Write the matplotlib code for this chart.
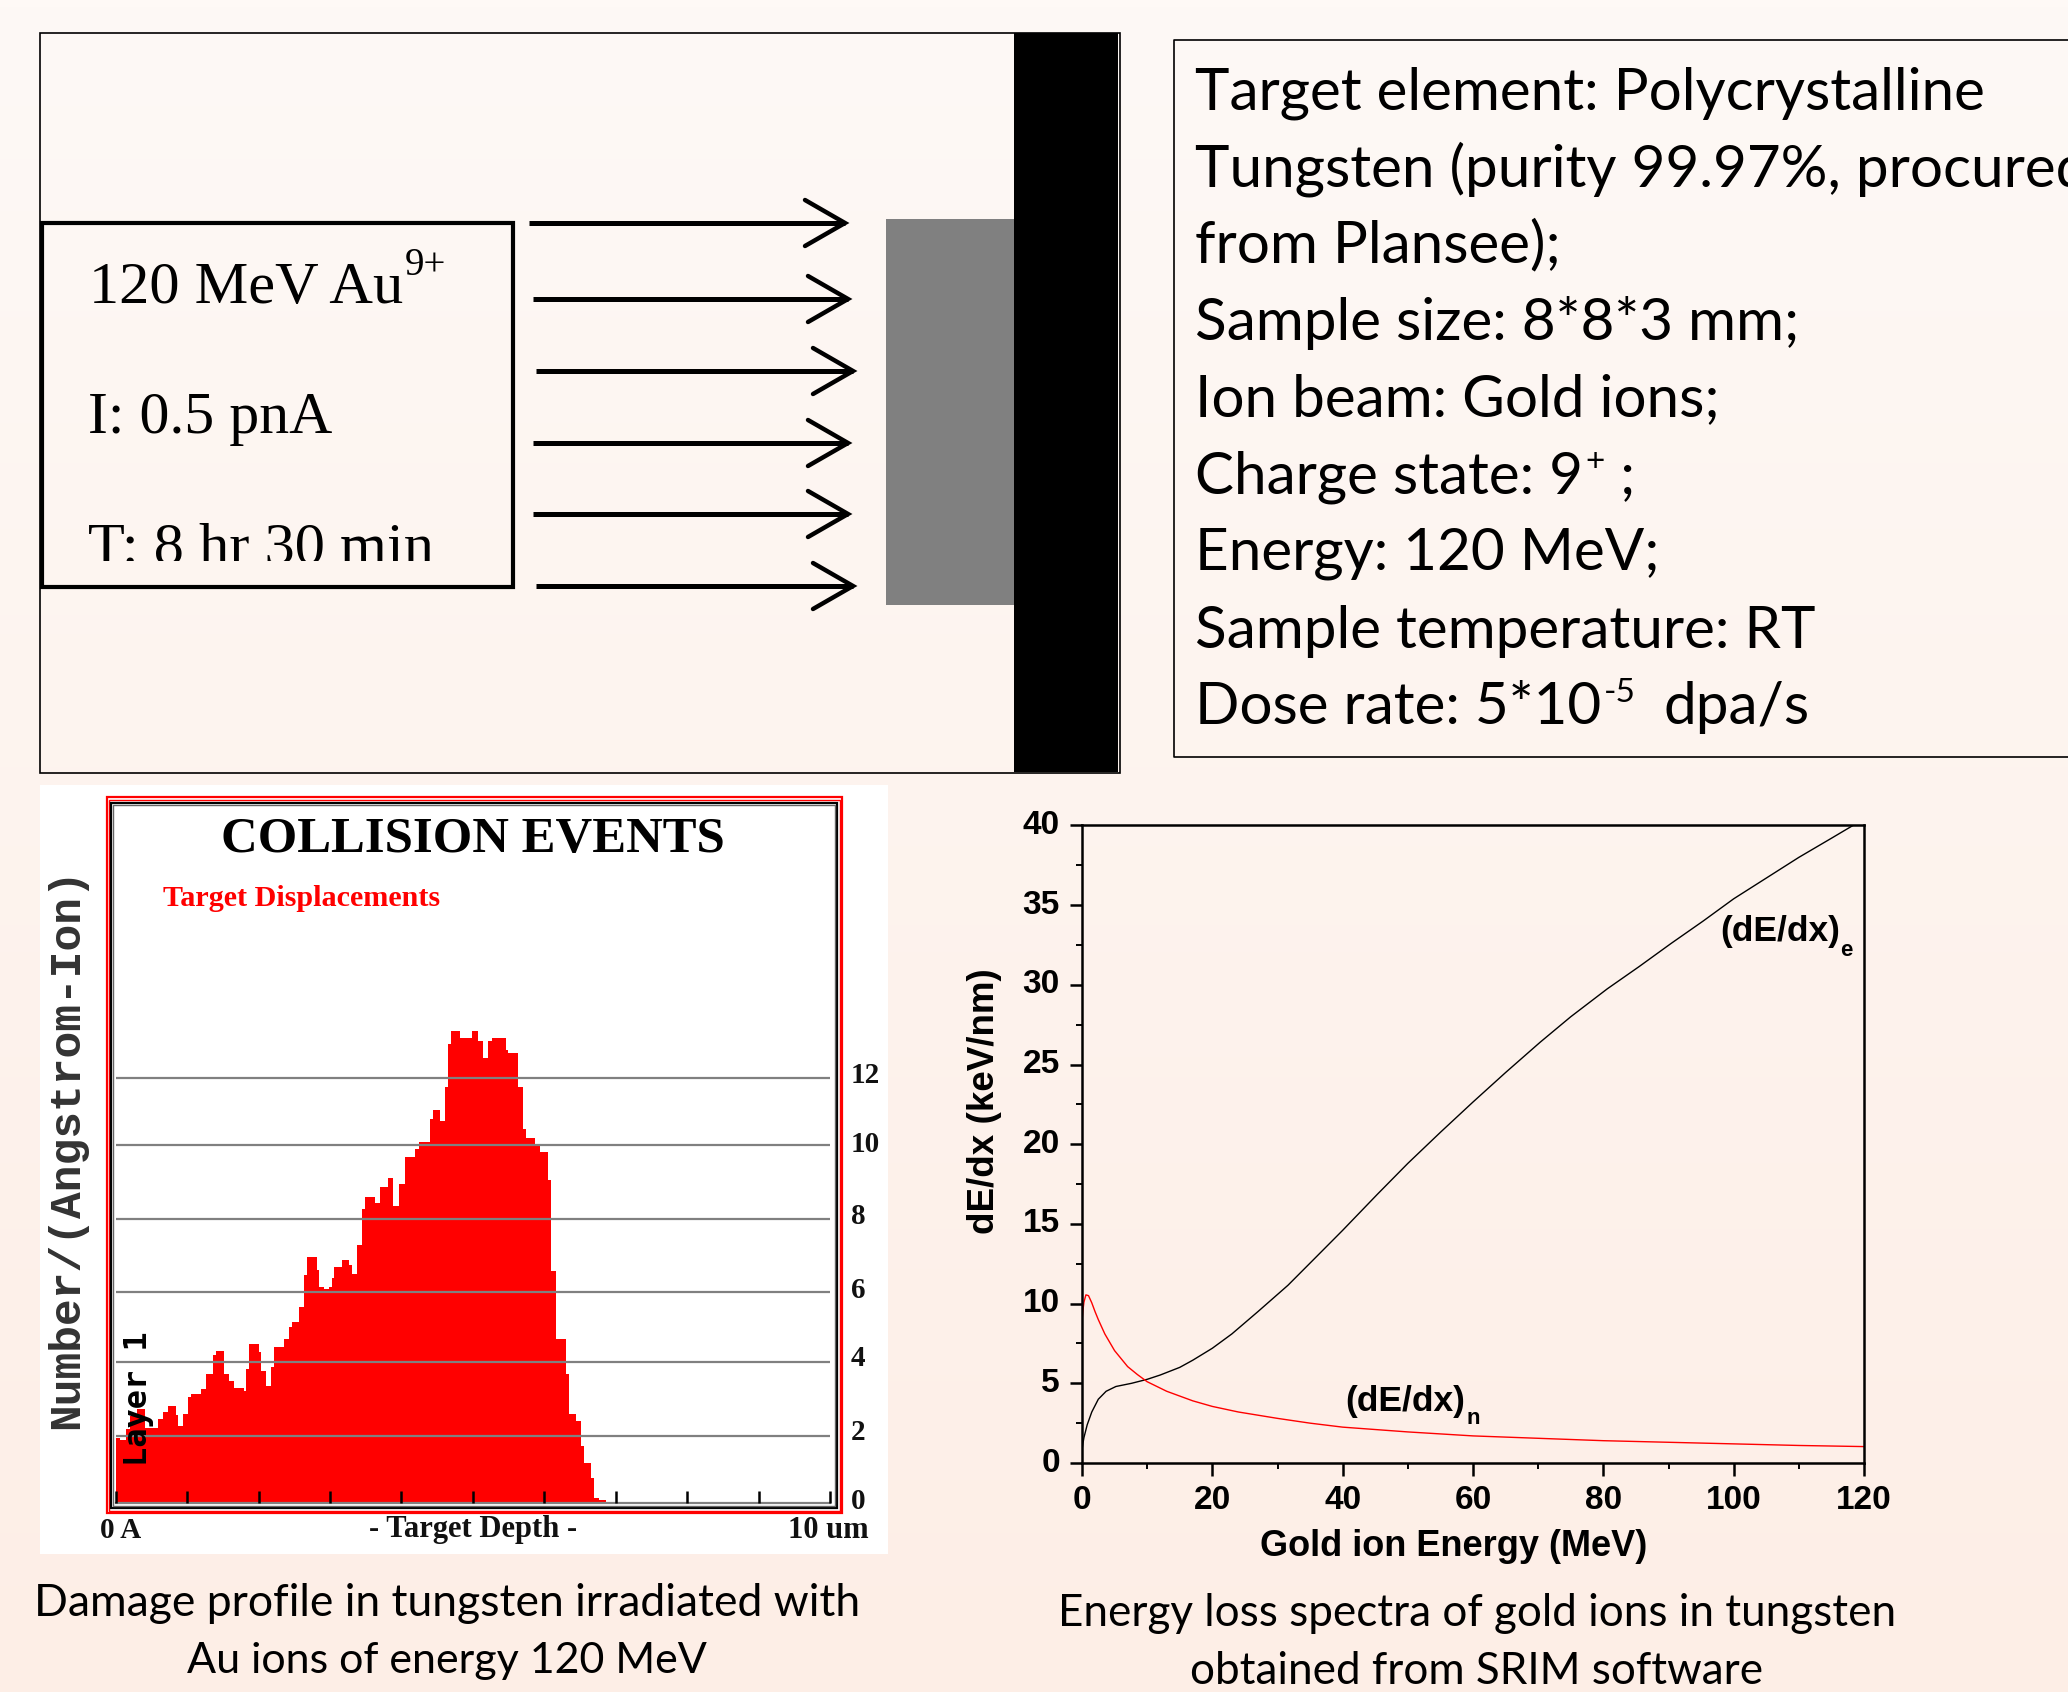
import numpy as np
import matplotlib
matplotlib.use("Agg")
import matplotlib.pyplot as plt
from matplotlib.patches import Rectangle
from matplotlib.transforms import ScaledTranslation

W, H = 2068, 1692

# ---------- data ----------
depth_edges = [0, .061, .140, .201, .294, .411, .481, .598, .668, .738, .845, .878, .948, 1.018, 1.050, 1.195,
               1.265, 1.368, 1.405, 1.513, 1.583, 1.653, 1.793, 1.830, 1.863, 2.003, 2.040, 2.110, 2.180, 2.218,
               2.358, 2.428, 2.465, 2.568, 2.638, 2.675, 2.815, 2.853, 2.923, 2.993, 3.030, 3.063, 3.165, 3.268,
               3.315, 3.380, 3.449, 3.487, 3.625, 3.702, 3.810, 3.886, 3.971, 4.055, 4.194, 4.240, 4.401, 4.447,
               4.547, 4.608, 4.647, 4.693, 4.823, 4.992, 5.069, 5.138, 5.215, 5.269, 5.461, 5.499, 5.630, 5.707,
               5.745, 5.876, 5.945, 6.052, 6.098, 6.163, 6.302, 6.340, 6.447, 6.513, 6.550, 6.653, 6.690, 6.760,
               6.867]
displacements = [1.85, 1.78, 2.08, 2.46, 2.65, 2.13, 2.11, 2.38, 2.58, 2.74, 2.50, 2.18, 2.52, 3.00, 3.09,
                 3.23, 3.65, 4.18, 4.28, 3.65, 3.45, 3.24, 3.16, 3.79, 4.49, 4.27, 3.73, 3.31, 3.85,
                 4.42, 4.62, 4.97, 5.12, 5.54, 6.44, 6.95, 6.58, 6.10, 6.04, 6.10, 6.37, 6.67, 6.86,
                 6.72, 6.46, 7.28, 8.30, 8.65, 8.47, 8.93, 9.19, 8.40, 9.00, 9.77, 9.99, 10.19, 10.85,
                 11.10, 10.78, 11.74, 12.98, 13.34, 13.13, 13.34, 13.05, 12.58, 13.05, 13.13, 12.80, 12.72, 11.74,
                 10.56, 10.32, 10.09, 9.91, 9.12, 6.55, 4.62, 3.63, 2.52, 2.32, 1.61, 1.14, 0.70, 0.15, 0.08]
grid_levels = [1.89, 3.98, 5.96, 8.03, 10.11, 12.0]
depth_ticks = [0, 1, 2, 3, 4, 5, 6, 7, 8, 9, 10]
level_labels = ["0", "2", "4", "6", "8", "10", "12"]
level_label_pos = [.11, 2.06, 4.15, 6.05, 8.14, 10.2, 12.15]

energy_e = [0, .15, .3, .8, 1.5, 2.5, 3.7, 5.2, 7.6, 10, 12, 13.5, 15, 17, 20, 23, 27, 31.6, 35.5, 40, 45.3, 50, 55,
            60, 65, 70.3, 75, 80.6, 85.5, 90.4, 95.3, 100, 105, 110, 115, 118.3]
dedx_e = [.8, 1.25, 1.6, 2.4, 3.2, 4.0, 4.5, 4.8, 5.0, 5.25, 5.52, 5.76, 6.0, 6.45, 7.2, 8.1, 9.5, 11.15, 12.75, 14.6,
          16.85, 18.8, 20.75, 22.65, 24.5, 26.4, 28, 29.75, 31.15, 32.6, 34, 35.4, 36.7, 38, 39.2, 40]
energy_n = [0, .15, .3, .6, 1, 1.5, 2, 2.5, 3.5, 5, 7, 8.5, 10, 13, 17, 20, 24, 30, 35, 40, 50, 60, 70, 80, 90, 100,
            110, 120]
dedx_n = [8.9, 9.6, 10.1, 10.55, 10.5, 10.05, 9.5, 9.0, 8.1, 7.05, 6.05, 5.55, 5.1, 4.5, 3.9, 3.55, 3.2, 2.8, 2.5,
          2.25, 1.95, 1.7, 1.55, 1.4, 1.3, 1.2, 1.1, 1.03]

info_lines = ["Target element: Polycrystalline", "Tungsten (purity 99.97%, procured", "from Plansee);",
              "Sample size: 8*8*3 mm;", "Ion beam: Gold ions;", "Charge state: 9", "Energy: 120 MeV;",
              "Sample temperature: RT", "Dose rate: 5*10"]
arrow_starts = [529, 532.5, 536, 532.5, 532.5, 536]
arrow_ends = [847, 850, 855, 850, 850, 855]
arrow_ys = [223, 299, 371, 443, 514, 586]

SANS = "Lato"
SERIF = "Liberation Serif"
ARIAL = "Liberation Sans"

# ---------- canvas ----------
fig = plt.figure(figsize=(W / 100, H / 100), dpi=100)
bg = fig.add_axes([0, 0, 1, 1])
bg.axis("off")
top = np.array([0xFE, 0xF9, 0xF6]) / 255
bot = np.array([0xFD, 0xEE, 0xE6]) / 255
t = np.linspace(0, 1, 256)[:, None, None]
bg.imshow(top * (1 - t) + bot * t, extent=(0, W, H, 0), aspect="auto", zorder=0)
bg.set_xlim(0, W)
bg.set_ylim(H, 0)


def rect(x0, y0, x1, y1, fc="none", ec="none", lw=0, z=1):
    r = Rectangle((x0, y0), x1 - x0, y1 - y0, fc=fc, ec=ec, lw=lw, zorder=z)
    bg.add_patch(r)
    return r


def txt(x, y, s, **kw):
    kw.setdefault("va", "center")
    kw.setdefault("ha", "left")
    kw.setdefault("color", "black")
    return bg.text(x, y, s, zorder=5, **kw)


# ---------- top-left diagram ----------
rect(39.5, 33, 1120, 773, ec="black", lw=1.2)
rect(1014, 33, 1118, 772, fc="black", z=2)
rect(886, 219, 1014, 605, fc="#808080", z=2)
rect(41.5, 223, 513, 587, ec="black", lw=3.0, z=3)
for xs, xe, y in zip(arrow_starts, arrow_ends, arrow_ys):
    bg.plot([xs, xe - 2], [y, y], color="black", lw=3.6, solid_capstyle="butt", zorder=3)
    bg.plot([xe - 42, xe - 2, xe - 42], [y - 23, y, y + 23], color="black", lw=3.2,
            solid_capstyle="round", solid_joinstyle="miter", zorder=3)
txt(89, 303, "120 MeV Au", family=SERIF, size=43.5, va="baseline")
txt(405, 275, "9+", family=SERIF, size=28, va="baseline")
txt(88, 433, "I: 0.5 pnA", family=SERIF, size=43, va="baseline")
tt = txt(88, 564, "T: 8 hr 30 min", family=SERIF, size=43.5, va="baseline")
tt.set_clip_path(Rectangle((41.5, 500), 470, 61.5, transform=bg.transData))
tt.set_clip_on(True)

# ---------- info box ----------
bg.plot([W + 5, 1174, 1174, W + 5], [40, 40, 757, 757], color="black", lw=1.2, zorder=3)
info_y = [93, 169, 246, 323, 400, 477, 554, 631, 708]
for s, y in zip(info_lines, info_y):
    txt(1195, y, s, family=SANS, size=42)
txt(1585, 462, "+", family=SANS, size=24)
txt(1620, 477, ";", family=SANS, size=42)
txt(1604, 693, "-5", family=SANS, size=24)
txt(1663, 708, "dpa/s", family=SANS, size=42)

# ---------- left panel ----------
rect(40, 785, 888, 1554, fc="white", z=1)
rect(106.5, 797.5, 842, 1513.5, ec="#ff0000", lw=1.6, z=2)
rect(109, 800, 839.5, 1511, ec="#ff0000", lw=1.0, z=2)
rect(111, 803, 836.5, 1508.5, ec="black", lw=1.6, z=2)
rect(113, 805, 834.5, 1506.5, ec="#666666", lw=1.0, z=2)

x0, x1, y0, y1 = 115.7, 830, 1503, 807
ax = fig.add_axes([x0 / W, 1 - y0 / H, (x1 - x0) / W, (y0 - y1) / H])
ax.patch.set_alpha(0)
ax.set_xlim(0, 10)
ax.set_ylim(0, (y0 - y1) / 35.4)
ax.axis("off")
ax.stairs(displacements, depth_edges, fill=True, color="#ff0000", zorder=2)
for g in grid_levels:
    ax.axhline(g, color="#808080", lw=1.6, zorder=3)
ax.axhline(0, color="#808080", lw=1.6, zorder=3, clip_on=False)
ax.vlines(depth_ticks, 0, 0.33, color="black", lw=1.8, zorder=4, clip_on=False)
for lab, p in zip(level_labels, level_label_pos):
    ax.text(1.0 + 21 / (x1 - x0), p - .06, lab, transform=ax.get_yaxis_transform(), family=SERIF,
            weight="bold", size=21, va="center", ha="left", color="#111111", clip_on=False)
ax.text(.32, 2.95, "Layer 1", rotation=90, family="DejaVu Sans Mono", weight="bold", size=23,
        ha="center", va="center", zorder=5)

txt(473, 840, "COLLISION EVENTS", family=SERIF, weight="bold", size=36.5, ha="center")
txt(163, 899, "Target Displacements", family=SERIF, weight="bold", size=21.7, color="#ff0000")
txt(67, 1148, "Number/(Angstrom-Ion)", family="Liberation Mono", weight="bold", size=32, rotation=90,
    ha="center", color="#333333")
txt(100, 1530, "0 A", family=SERIF, weight="bold", size=21, color="#111111")
txt(473, 1530, "- Target Depth -", family=SERIF, weight="bold", size=22, ha="center", color="#111111")
txt(869, 1530, "10 um", family=SERIF, weight="bold", size=22, ha="right", color="#111111")

# ---------- right panel ----------
x0, x1, y0, y1 = 1082, 1864, 1463, 825.5
ax2 = fig.add_axes([x0 / W, 1 - y0 / H, (x1 - x0) / W, (y0 - y1) / H])
ax2.patch.set_alpha(0)
ax2.set_xlim(0, 120)
ax2.set_ylim(0, 40)
ax2.plot(energy_e, dedx_e, color="black", lw=1.0)
ax2.plot(energy_n, dedx_n, color="#ff0000", lw=1.0)
ax2.set_xticks(np.arange(0, 121, 20))
ax2.set_yticks(np.arange(0, 41, 5))
ax2.set_xticks(np.arange(10, 120, 20), minor=True)
ax2.set_yticks(np.arange(2.5, 40, 5), minor=True)
ax2.tick_params(which="major", length=9, width=1.8, pad=7)
ax2.tick_params(which="minor", length=4.5, width=1.4)
for lab in ax2.get_xticklabels() + ax2.get_yticklabels():
    lab.set_family(ARIAL)
    lab.set_weight("bold")
    lab.set_size(24)
nudge = ScaledTranslation(0, 2.5 / 72, fig.dpi_scale_trans)
for lab in ax2.get_yticklabels():
    lab.set_va("center_baseline")
    lab.set_transform(lab.get_transform() + nudge)
for s in ax2.spines.values():
    s.set_linewidth(1.8)

txt(1454, 1546, "Gold ion Energy (MeV)", family=ARIAL, weight="bold", size=26, ha="center")
txt(984, 1101, "dE/dx (keV/nm)", family=ARIAL, weight="bold", size=26.5, rotation=90, ha="center")
txt(1720, 932, "(dE/dx)", family=ARIAL, weight="bold", size=25.5)
txt(1840, 951, "e", family=ARIAL, weight="bold", size=16)
txt(1345, 1401, "(dE/dx)", family=ARIAL, weight="bold", size=25.5)
txt(1467, 1419, "n", family=ARIAL, weight="bold", size=16)

# ---------- captions ----------
txt(447, 1603, "Damage profile in tungsten irradiated with", family=SANS, size=32, ha="center")
txt(447, 1661, "Au ions of energy 120 MeV", family=SANS, size=31, ha="center")
txt(1477, 1613, "Energy loss spectra of gold ions in tungsten", family=SANS, size=31.7, ha="center")
txt(1477, 1671, "obtained from SRIM software", family=SANS, size=31.7, ha="center")

fig.savefig("out.png", dpi=100)
